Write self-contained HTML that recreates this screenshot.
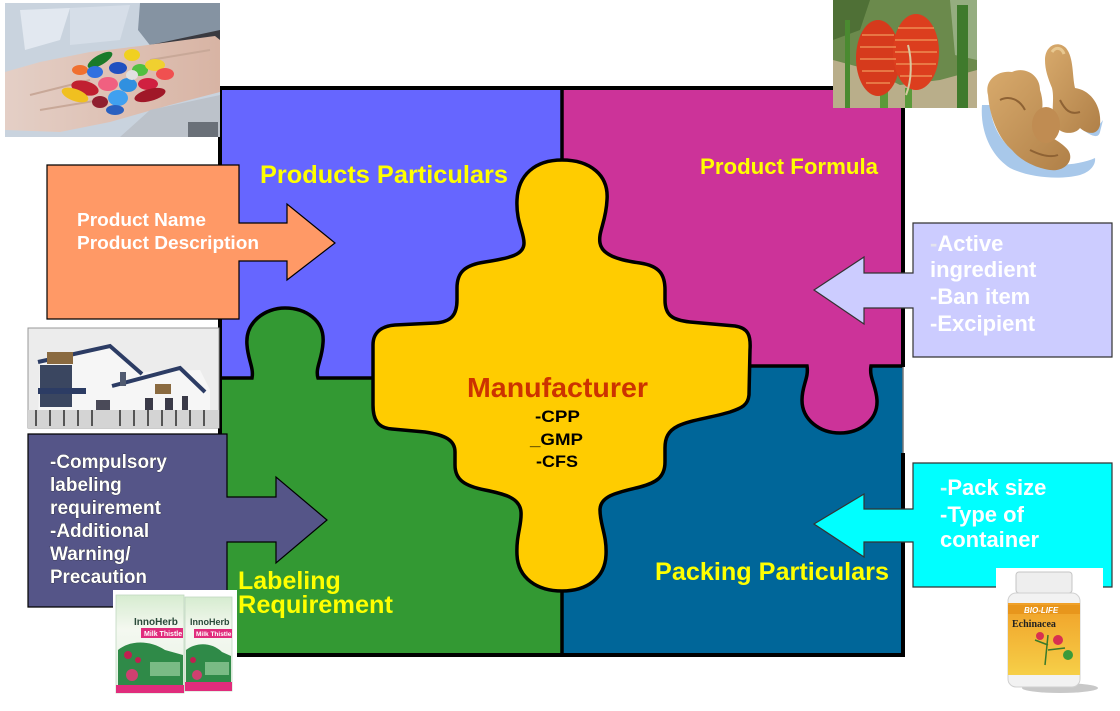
<!DOCTYPE html>
<html><head><meta charset="utf-8"><style>
html,body{margin:0;padding:0;background:#fff;}
svg{display:block;}
text{font-family:"Liberation Sans",Arial,sans-serif;font-weight:bold;}
</style></head><body>
<svg width="1120" height="711" viewBox="0 0 1120 711" xmlns="http://www.w3.org/2000/svg">
<defs>
<linearGradient id="lbl" x1="0" y1="0" x2="0" y2="1"><stop offset="0" stop-color="#f0a028"/><stop offset="1" stop-color="#f6cf48"/></linearGradient>
<linearGradient id="box" x1="0" y1="0" x2="0" y2="1"><stop offset="0" stop-color="#d6ecd0"/><stop offset="0.35" stop-color="#f4f8f0"/><stop offset="1" stop-color="#e6f2e4"/></linearGradient>
<linearGradient id="skin" x1="0" y1="0" x2="1" y2="0"><stop offset="0" stop-color="#e4cfc6"/><stop offset="1" stop-color="#d8b4a4"/></linearGradient>
<linearGradient id="gin" x1="0" y1="0" x2="1" y2="1"><stop offset="0" stop-color="#d8aa6c"/><stop offset="1" stop-color="#b08048"/></linearGradient>
</defs>
<rect width="1120" height="711" fill="#fff"/>

<!-- quadrants -->
<rect x="220" y="88" width="342" height="290" fill="#6666ff"/>
<rect x="562" y="88" width="341" height="278" fill="#cc3399"/>
<rect x="220" y="378" width="342" height="277" fill="#339933"/>
<rect x="562" y="366" width="341" height="289" fill="#006699"/>
<path d="M252,378 C254,368 248,360 247,345 C245,322 265,308 285,308 C305,308 325,320 323,343 C322,360 315,368 318,378 Z" fill="#339933"/>
<path d="M807,366 C809,378 802,385 802,400 C802,420 820,433 840,433 C860,433 878,420 877,400 C876,385 869,378 871,366 Z" fill="#cc3399"/>

<!-- dividers -->
<g fill="none" stroke="#000" stroke-width="3.5">
<path d="M220,378 L252,378 C254,368 248,360 247,345 C245,322 265,308 285,308 C305,308 325,320 323,343 C322,360 315,368 318,378 L378,378"/>
<path d="M745,366 L807,366 C809,378 802,385 802,400 C802,420 820,433 840,433 C860,433 878,420 877,400 C876,385 869,378 871,366 L903,366"/>
<path d="M562,88 L562,165 M562,588 L562,655"/>
</g>
<!-- frame -->
<g stroke="#000" stroke-width="4" fill="none">
<path d="M218,88 L905,88 M220,88 L220,655 M218,655 L905,655 M903,88 L903,367 M903,453 L903,655"/>
</g>
<path d="M903,367 L903,453" stroke="#777" stroke-width="1.5"/>

<!-- center piece -->
<path d="M562,160 C590,160 609,175 607,200 C606,222 598,232 600,243 C602,255 618,260 640,263 C660,266 665,275 665,290 L665,300 C665,315 672,320 690,322 L735,326 C748,328 751,335 750,350 L749,395 C748,405 742,408 730,412 C710,418 690,420 678,426 C668,431 665,438 665,448 L665,462 C665,478 655,483 640,487 C620,492 600,495 600,510 C600,525 607,535 606,555 C605,578 587,591 562,591 C537,591 518,578 517,555 C516,535 522,525 521,512 C520,498 505,494 485,490 C465,486 455,480 455,465 L455,452 C455,440 445,435 425,432 L392,429 C378,428 373,420 373,405 L373,345 C373,332 382,326 395,325 L435,323 C452,322 457,314 457,300 L457,288 C457,272 465,265 485,262 C510,258 524,255 524,243 C524,232 516,222 517,200 C518,175 535,160 562,160 Z" fill="#ffcc00" stroke="#000" stroke-width="3.5"/>

<!-- labels -->
<text x="260" y="183" font-size="25" fill="#ffff00" textLength="248" lengthAdjust="spacingAndGlyphs">Products Particulars</text>
<text x="700" y="174" font-size="22" fill="#ffff00" textLength="178" lengthAdjust="spacingAndGlyphs">Product Formula</text>
<text x="238" y="589" font-size="25" fill="#ffff00">Labeling</text>
<text x="238" y="613" font-size="25" fill="#ffff00" textLength="155" lengthAdjust="spacingAndGlyphs">Requirement</text>
<text x="655" y="580" font-size="25" fill="#ffff00" textLength="234" lengthAdjust="spacingAndGlyphs">Packing Particulars</text>
<text x="467" y="397" font-size="28" fill="#cc3300" textLength="181" lengthAdjust="spacingAndGlyphs">Manufacturer</text>
<text x="535" y="422" font-size="17" fill="#000" textLength="45" lengthAdjust="spacingAndGlyphs">-CPP</text>
<text x="530" y="445" font-size="17" fill="#000" textLength="53" lengthAdjust="spacingAndGlyphs">_GMP</text>
<text x="536" y="467" font-size="17" fill="#000" textLength="42" lengthAdjust="spacingAndGlyphs">-CFS</text>

<!-- arrows / boxes -->
<path d="M47,165 L239,165 L239,223 L287,223 L287,204 L335,243 L287,280 L287,261 L239,261 L239,319 L47,319 Z" fill="#ff9966" stroke="#000" stroke-width="1.2"/>
<text x="77" y="226" font-size="18" fill="#fff" textLength="129" lengthAdjust="spacingAndGlyphs">Product Name</text>
<text x="77" y="249" font-size="18" fill="#fff" textLength="182" lengthAdjust="spacingAndGlyphs">Product Description</text>

<path d="M28,434 L227,434 L227,497 L276,497 L276,477 L327,520 L276,563 L276,542 L227,542 L227,607 L28,607 Z" fill="#555588" stroke="#000" stroke-width="1.2"/>
<g font-size="19" fill="#fff" style="paint-order:stroke" stroke="#222" stroke-width="0.6">
<text x="50" y="468" textLength="117" lengthAdjust="spacingAndGlyphs">-Compulsory</text>
<text x="50" y="491">labeling</text>
<text x="50" y="514" textLength="111" lengthAdjust="spacingAndGlyphs">requirement</text>
<text x="50" y="537">-Additional</text>
<text x="50" y="560">Warning/</text>
<text x="50" y="583" textLength="97" lengthAdjust="spacingAndGlyphs">Precaution</text>
</g>

<path d="M913,223 L1112,223 L1112,357 L913,357 L913,308 L864,308 L864,324 L814,290 L864,257 L864,273 L913,273 Z" fill="#ccccff" stroke="#333" stroke-width="1.2"/>
<g font-size="22" fill="#fff">
<text x="930" y="251"><tspan fill="#e4e4ee">-</tspan>Active</text>
<text x="930" y="277">ingredient</text>
<text x="930" y="304">-Ban item</text>
<text x="930" y="331">-Excipient</text>
</g>

<path d="M913,463 L1112,463 L1112,587 L913,587 L913,542 L864,542 L864,557 L814,524 L864,494 L864,509 L913,509 Z" fill="#00ffff" stroke="#333" stroke-width="1.2"/>
<g font-size="22" fill="#fff">
<text x="940" y="495"><tspan fill="#e4f4f4">-</tspan>Pack size</text>
<text x="940" y="522">-Type of</text>
<text x="940" y="547">container</text>
</g>

<!-- pills photo -->
<g>
<rect x="5" y="3" width="215" height="134" fill="#c9d3de"/>
<path d="M20,10 L70,8 L60,40 L25,50 Z" fill="#e2e8f0"/>
<path d="M70,8 L130,5 L120,40 L70,45 Z" fill="#d6dee8"/>
<path d="M140,3 L220,3 L220,70 L160,58 L138,30 Z" fill="#8593a2"/>
<path d="M150,45 L220,30 L220,45 L170,55 Z" fill="#3a3a40"/>
<path d="M5,72 L40,62 L90,52 L140,46 L215,36 L220,40 L220,92 L170,105 L110,122 L60,132 L5,130 Z" fill="url(#skin)"/>
<path d="M30,95 L90,80 M40,110 L100,100 M150,60 L210,50" stroke="#c8a898" stroke-width="2" fill="none"/>
<path d="M150,110 L220,95 L220,137 L120,137 Z" fill="#bcc2ca"/>
<rect x="188" y="122" width="30" height="15" fill="#6a7078"/>
<g>
<ellipse cx="100" cy="60" rx="14" ry="5" fill="#1a7a2a" transform="rotate(-30 100 60)"/>
<ellipse cx="132" cy="55" rx="8" ry="6" fill="#f0d020"/>
<ellipse cx="80" cy="70" rx="8" ry="5" fill="#f07030"/>
<ellipse cx="95" cy="72" rx="8" ry="6" fill="#3070e0"/>
<ellipse cx="118" cy="68" rx="9" ry="6" fill="#2050c0"/>
<ellipse cx="140" cy="70" rx="8" ry="6" fill="#50c040"/>
<ellipse cx="155" cy="65" rx="10" ry="6" fill="#f0d030"/>
<ellipse cx="165" cy="74" rx="9" ry="6" fill="#f05050"/>
<ellipse cx="85" cy="88" rx="14" ry="7" fill="#c02030" transform="rotate(15 85 88)"/>
<ellipse cx="108" cy="84" rx="10" ry="7" fill="#f06080"/>
<ellipse cx="128" cy="85" rx="9" ry="7" fill="#3090e0"/>
<ellipse cx="148" cy="84" rx="10" ry="6" fill="#d02040"/>
<ellipse cx="75" cy="95" rx="14" ry="6" fill="#f0c020" transform="rotate(20 75 95)"/>
<ellipse cx="118" cy="98" rx="10" ry="8" fill="#40a0f0"/>
<ellipse cx="150" cy="95" rx="16" ry="6" fill="#a01828" transform="rotate(-15 150 95)"/>
<ellipse cx="100" cy="102" rx="8" ry="6" fill="#902030"/>
<ellipse cx="115" cy="110" rx="9" ry="5" fill="#2a60c0"/>
<ellipse cx="132" cy="75" rx="6" ry="5" fill="#e0e0e0"/>
</g>
</g>

<!-- building photo -->
<g>
<rect x="28" y="328" width="191" height="100" fill="#ececec" stroke="#999" stroke-width="1"/>
<path d="M40,362 L110,345 L140,372 L200,370 L210,390 L210,420 L38,420 Z" fill="#f6f6f6"/>
<path d="M38,362 L110,346 L142,374" fill="none" stroke="#2c3c64" stroke-width="4"/>
<path d="M112,386 L180,368 L205,392" fill="none" stroke="#2c3c64" stroke-width="4"/>
<rect x="47" y="352" width="26" height="12" fill="#8a6a40"/>
<rect x="40" y="365" width="32" height="42" fill="#3a4660"/>
<rect x="38" y="388" width="48" height="6" fill="#2c3c64"/>
<rect x="120" y="372" width="6" height="14" fill="#505a70"/>
<rect x="155" y="384" width="16" height="10" fill="#8a6a40"/>
<rect x="145" y="398" width="8" height="18" fill="#3a3a48"/>
<rect x="165" y="398" width="8" height="18" fill="#3a3a48"/>
<rect x="182" y="396" width="6" height="16" fill="#3a3a48"/>
<rect x="96" y="400" width="14" height="18" fill="#4a4a58"/>
<rect x="28" y="410" width="191" height="18" fill="#d4d4d4"/>
<g stroke="#555" stroke-width="2">
<path d="M36,410 V426 M50,410 V426 M64,410 V426 M78,410 V426 M92,410 V426 M120,410 V426 M134,410 V426 M148,410 V426 M162,410 V426 M176,410 V426 M190,410 V426 M204,410 V426"/>
</g>
</g>

<!-- flower photo -->
<g>
<rect x="833" y="0" width="144" height="108" fill="#6b8a4c"/>
<path d="M833,60 L870,70 L900,85 L940,80 L977,70 L977,108 L833,108 Z" fill="#b9ae8a"/>
<path d="M833,0 L870,0 L860,30 L833,40 Z" fill="#4f7036"/>
<path d="M950,0 L977,0 L977,60 L955,55 Z" fill="#95ad80"/>
<rect x="957" y="5" width="11" height="103" fill="#3f7a2c"/>
<rect x="845" y="20" width="5" height="88" fill="#4a8a30"/>
<rect x="880" y="88" width="8" height="20" fill="#5a9a3a"/>
<rect x="905" y="88" width="7" height="20" fill="#5a9a3a"/>
<ellipse cx="878" cy="58" rx="22" ry="38" fill="#d63a1c"/>
<ellipse cx="916" cy="52" rx="23" ry="38" fill="#dc3e1e"/>
<g stroke="#f2a060" stroke-width="1.5" fill="none" opacity="0.8">
<path d="M862,35 L894,35 M860,47 L896,47 M860,59 L896,59 M862,71 L894,71 M866,83 L890,83"/>
<path d="M898,28 L934,28 M895,40 L937,40 M895,52 L937,52 M896,64 L936,64 M900,76 L932,76"/>
</g>
<path d="M908,45 C912,60 912,80 906,95" stroke="#d8c8a0" stroke-width="2" fill="none"/>
</g>

<!-- ginger -->
<g>
<path d="M982,105 C980,130 990,155 1010,168 C1030,178 1060,180 1080,175 C1090,172 1096,165 1095,158 C1080,165 1050,168 1030,160 C1005,150 992,130 990,105 Z" fill="#a8c8ea"/>
<path d="M1080,128 C1090,135 1098,140 1100,132 L1103,120 C1098,128 1090,130 1080,125 Z" fill="#a8c8ea"/>
<path d="M988,95 C984,80 998,70 1012,72 C1025,66 1040,75 1040,90 C1045,105 1042,118 1035,128 C1045,135 1060,140 1068,150 C1075,160 1065,172 1050,170 C1035,168 1020,160 1012,150 C1000,140 990,120 988,95 Z" fill="url(#gin)"/>
<path d="M1045,60 C1045,45 1058,40 1066,48 C1074,58 1072,75 1075,88 C1090,90 1102,105 1100,125 C1098,135 1088,135 1080,128 C1075,135 1060,135 1055,125 C1050,115 1055,100 1052,88 C1048,78 1045,70 1045,60 Z" fill="url(#gin)"/>
<ellipse cx="1046" cy="125" rx="14" ry="18" fill="#c08c52"/>
<path d="M1000,100 C1010,95 1020,100 1025,110 M1060,100 C1065,110 1070,115 1080,112 M1030,150 C1040,155 1050,158 1058,155" stroke="#8e6234" stroke-width="2" fill="none"/>
<path d="M1052,52 C1056,46 1062,48 1064,54" stroke="#e8c890" stroke-width="3" fill="none"/>
</g>

<!-- InnoHerb boxes -->
<g>
<rect x="113" y="590" width="124" height="110" fill="#fff"/>
<rect x="116" y="595" width="68" height="98" fill="url(#box)" stroke="#c0d8c0" stroke-width="0.8"/>
<rect x="185" y="597" width="47" height="94" fill="url(#box)" stroke="#c0d8c0" stroke-width="0.8"/>
<text x="134" y="625" font-size="10" fill="#2a4a3a" font-weight="normal">InnoHerb</text>
<text x="190" y="625" font-size="9" fill="#2a4a3a" font-weight="normal">InnoHerb</text>
<rect x="141" y="628" width="42" height="10" fill="#e02c7c"/>
<rect x="194" y="629" width="38" height="9" fill="#e02c7c"/>
<text x="144" y="636" font-size="7" fill="#fff">Milk Thistle</text>
<text x="196" y="636" font-size="6.5" fill="#fff">Milk Thistle</text>
<path d="M118,650 C130,640 150,640 165,650 L183,655 L183,685 L118,685 Z" fill="#2f8a48"/>
<path d="M186,650 C196,642 212,642 222,652 L231,656 L231,682 L186,682 Z" fill="#2f8a48"/>
<circle cx="128" cy="655" r="4" fill="#c02050"/>
<circle cx="138" cy="660" r="3" fill="#c02050"/>
<circle cx="132" cy="675" r="6" fill="#d04070"/>
<circle cx="193" cy="660" r="3" fill="#c02050"/>
<circle cx="197" cy="675" r="5" fill="#d04070"/>
<rect x="150" y="662" width="30" height="14" fill="#9ad0a0" opacity="0.7"/>
<rect x="205" y="662" width="24" height="13" fill="#9ad0a0" opacity="0.7"/>
<rect x="116" y="685" width="68" height="8" fill="#e02c7c"/>
<rect x="185" y="682" width="47" height="9" fill="#e02c7c"/>
</g>

<!-- bottle -->
<g>
<rect x="996" y="568" width="107" height="128" fill="#fff"/>
<ellipse cx="1060" cy="688" rx="38" ry="5" fill="#c8c8c8"/>
<rect x="1016" y="572" width="56" height="21" rx="3" fill="#eeeeee" stroke="#c4c4c4" stroke-width="1"/>
<rect x="1008" y="593" width="72" height="94" rx="8" fill="#f2f2f2" stroke="#d0d0d0" stroke-width="1"/>
<rect x="1008" y="603" width="72" height="72" fill="url(#lbl)"/>
<rect x="1008" y="605" width="72" height="9" fill="#e8961c"/>
<text x="1024" y="613" font-size="8" fill="#fff" font-style="italic">BIO-LIFE</text>
<text x="1012" y="627" font-size="10" fill="#222" style="font-family:'Liberation Serif',serif">Echinacea</text>
<path d="M1045,665 L1048,635 M1048,645 L1035,640 M1048,650 L1065,648" stroke="#3a7a2a" stroke-width="1.5" fill="none"/>
<circle cx="1040" cy="636" r="4" fill="#d83050"/>
<circle cx="1058" cy="640" r="5" fill="#d83050"/>
<circle cx="1068" cy="655" r="5" fill="#3a9a3a"/>
</g>
</svg>
</body></html>
